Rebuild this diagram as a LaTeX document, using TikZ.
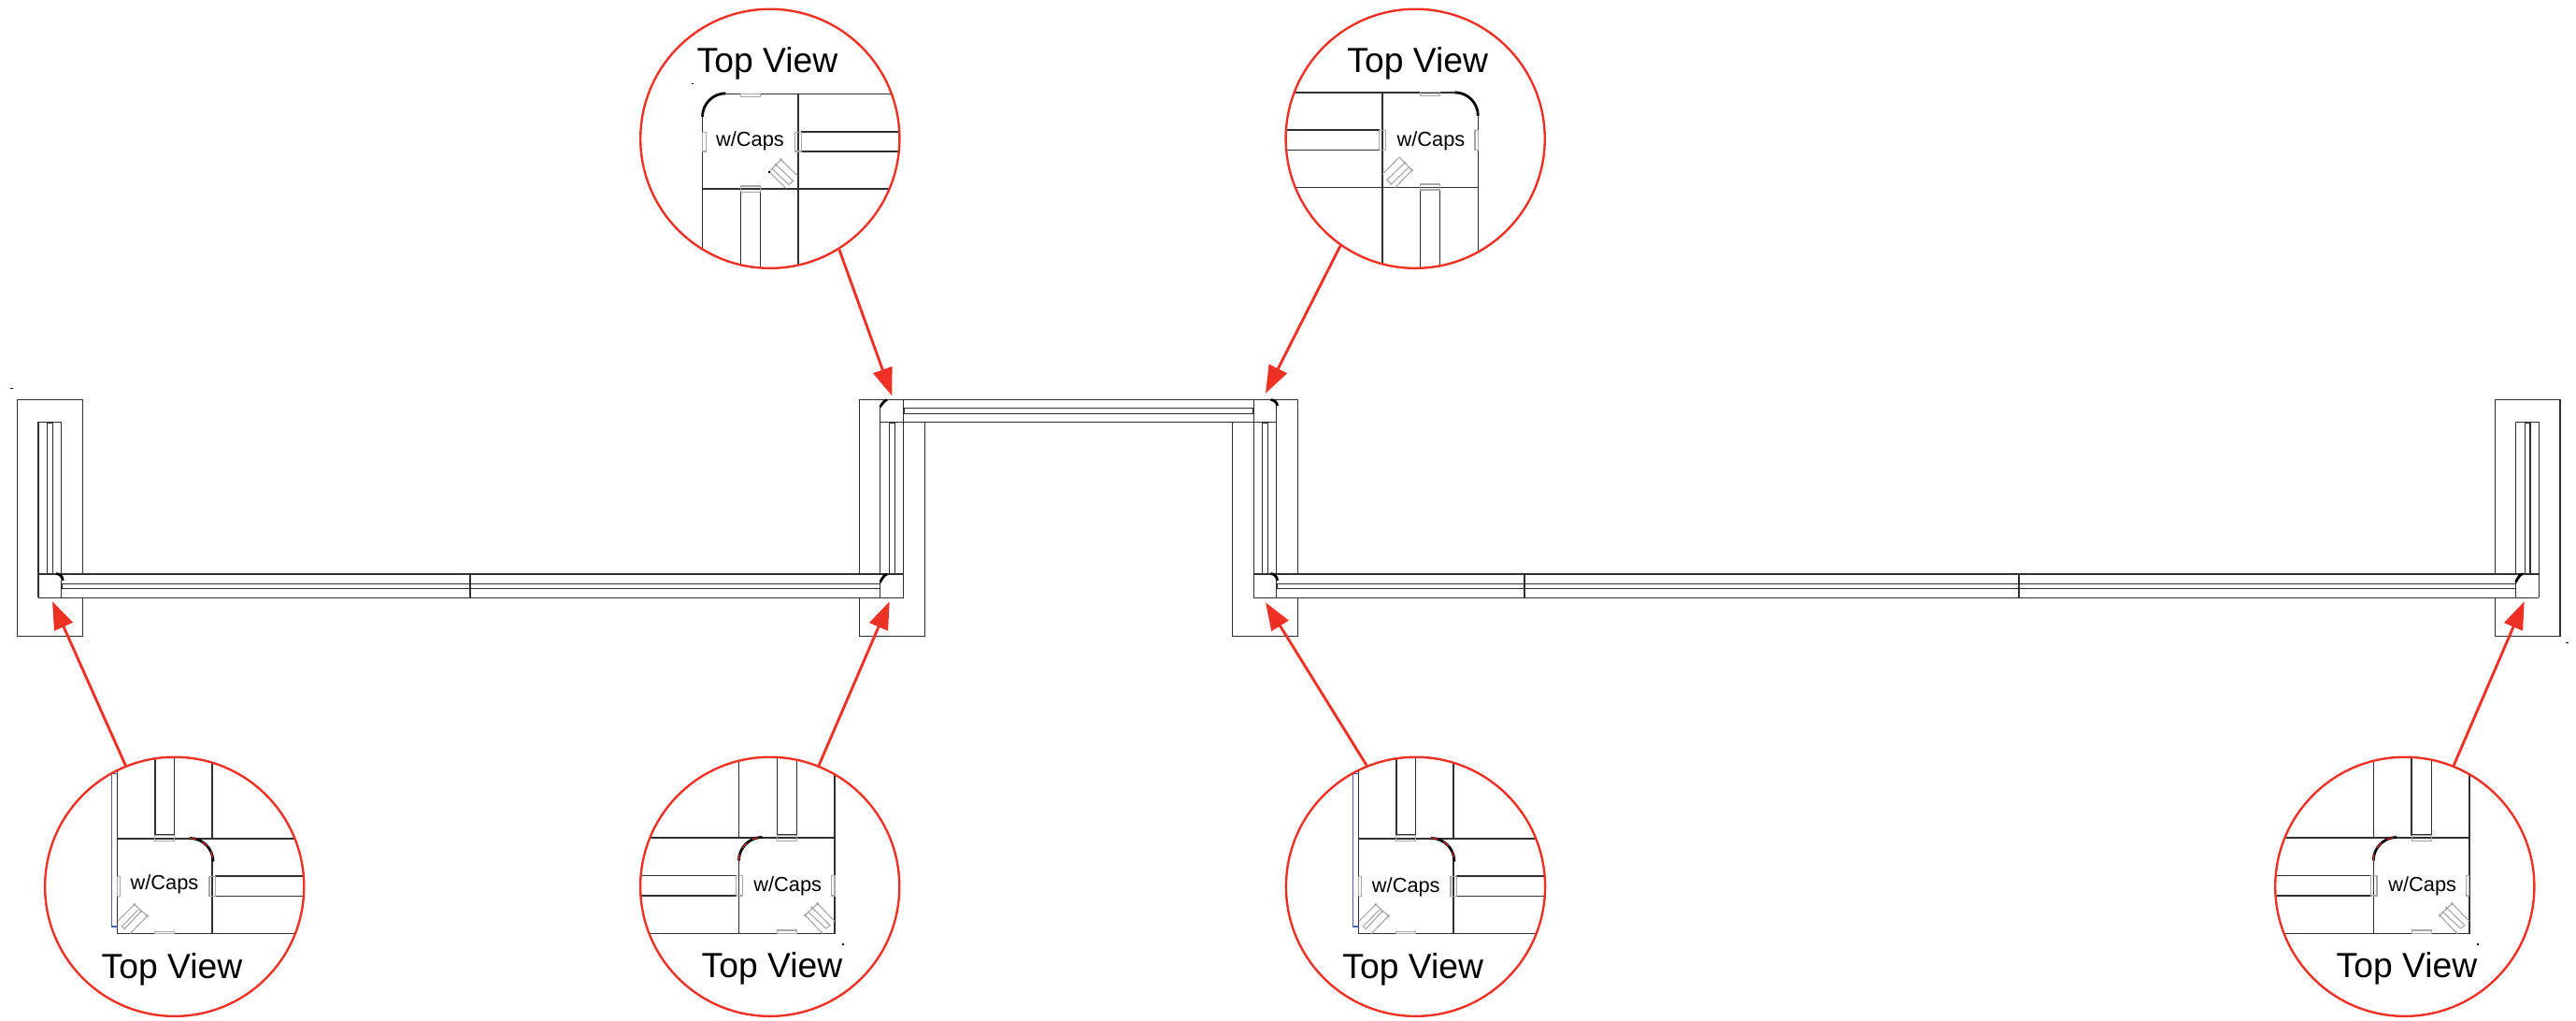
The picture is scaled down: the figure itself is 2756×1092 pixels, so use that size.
\documentclass[tikz,border=0pt]{standalone}
\usepackage{fontspec}
\setmainfont{Liberation Sans}
\usetikzlibrary{arrows.meta}
\definecolor{callred}{HTML}{EE3124}
\definecolor{plan}{HTML}{303030}
\definecolor{capgray}{HTML}{A8A8A8}
\definecolor{blueline}{HTML}{4A5FB0}
\tikzset{
  planline/.style={draw=plan,line width=0.42pt},
  arcline/.style={draw=black,line width=0.8pt},
  detail/.style={draw=plan,line width=0.42pt},
  capline/.style={draw=capgray,line width=0.32pt},
  lens/.style={circle,draw=callred,line width=0.68pt,minimum size=2.77cm,inner sep=0pt},
  callout/.style={draw=callred,line width=0.82pt,-{Triangle[length=8.4pt,width=6pt]}},
  bigtext/.style={font=\fontsize{10.6pt}{12pt}\selectfont,inner sep=0pt},
  smalltext/.style={font=\fontsize{6.2pt}{7pt}\selectfont,inner sep=0pt},
  zoomed/.style={shift={#1},x=0.0033333cm,y=-0.0033333cm},
}
% Detail views, written in the coordinates of a 340x300 crop at 3x
\newcommand{\viewTL}{%
  \draw[detail] (352,302)--(900,302) (583,302)--(583,900) (275,607)--(900,607) (275,375)--(275,900);
  \draw[detail] (910,424)--(593,424)--(593,487)--(910,487) (398,900)--(398,618)--(462,618)--(462,900);
  \draw[capline] (398,302) rectangle (462,312) (275,424) rectangle (288,487) (573,424) rectangle (593,487) (398,598) rectangle (462,618);
  \draw[capline] (581,565)--(527,513)--(490,552)--(543,605) (511,529)--(567,582)--(553,593)--(497,541);
  \draw[arcline] (275,375) arc[start angle=180,end angle=270,radius=75];
  \fill[black] (487,549) rectangle (494,556);
  \fill[capgray] (527,513) circle (5) (511,529) circle (5);
}
\newcommand{\viewTR}{%
  \draw[detail] (0,297)--(590,297) (357,297)--(357,900) (0,603)--(665,603) (665,372)--(665,900);
  \draw[detail] (0,418)--(347,418)--(347,482)--(0,482) (480,900)--(480,610)--(542,610)--(542,900);
  \draw[capline] (480,297) rectangle (542,307) (655,418) rectangle (665,482) (347,418) rectangle (367,482) (480,592) rectangle (542,610);
  \draw[capline] (358,560)--(412,505)--(453,547)--(398,603) (430,523)--(372,578)--(386,592)--(443,537);
  \draw[arcline] (590,297) arc[start angle=270,end angle=360,radius=75];
  \fill[capgray] (430,523) circle (5) (453,547) circle (5);
}
\newcommand{\viewBL}{%
  \draw[detail] (287,0)--(287,627)--(900,627) (592,0)--(592,322) (592,372)--(592,627) (287,322)--(900,322);
  \draw[detail] (900,442)--(603,442)--(603,507)--(900,507) (408,0)--(408,310)--(470,310)--(470,0);
  \draw[capline] (408,620) rectangle (470,627) (287,442) rectangle (296,507) (583,442) rectangle (603,507) (408,312) rectangle (470,330);
  \draw[capline] (289,586)--(342,533)--(383,570)--(328,627) (362,556)--(310,612)--(302,603)--(355,549);
  \draw[blueline,line width=0.3pt] (287,112)--(268,112)--(268,604)--(287,604);
  \draw[arcline] (520,320) arc[start angle=270,end angle=360,radius=75];
  \draw[callred,line width=0.3pt,dash pattern=on 2pt off 2pt] (520,320) arc[start angle=270,end angle=360,radius=75];
  \fill[capgray] (342,533) circle (5) (362,556) circle (5) (383,570) circle (5);
}
\newcommand{\viewBR}{%
  \draw[detail] (0,318)--(670,318) (0,627)--(670,627) (362,0)--(362,318) (362,392)--(362,627) (670,0)--(670,627);
  \draw[detail] (0,440)--(353,440)--(353,505)--(0,505) (485,0)--(485,310)--(549,310)--(549,0);
  \draw[capline] (485,616) rectangle (549,627) (660,440) rectangle (670,505) (353,440) rectangle (373,505) (485,310) rectangle (549,328);
  \draw[capline] (670,587)--(615,530)--(575,568)--(632,627) (597,543)--(655,600)--(642,610)--(583,555);
  \draw[arcline] (362,392) arc[start angle=180,end angle=270,radius=75];
  \draw[callred,line width=0.3pt,dash pattern=on 2pt off 2pt] (362,392) arc[start angle=180,end angle=270,radius=75];
  \fill[capgray] (615,530) circle (5) (597,543) circle (5) (575,568) circle (5);
}
\begin{document}
\begin{tikzpicture}[x=0.01cm,y=-0.01cm]
\path[use as bounding box] (0,0) rectangle (2756,1092);

% --- plan: left return
\draw[planline] (88.3,614)--(88.3,427.3)--(18.5,427.3)--(18.5,680.3)--(88.3,680.3)--(88.3,639.3);
\draw[planline] (41,614)--(41,451.3)--(65.7,451.3)--(65.7,614) (65.7,621)--(65.7,639.3) (41,614)--(41,639.3);
\draw[planline] (50.7,614)--(50.7,452)--(56.7,452)--(56.7,614);
% --- plan: left run
\draw[planline] (41,614)--(966.7,614) (41,639.3)--(966.7,639.3) (66.7,624.3)--(941.3,624.3) (66.7,629.7)--(941.3,629.7) (66.7,624.3)--(66.7,629.7) (941.3,624.3)--(941.3,629.7);
\draw[planline] (503,614)--(503,639.3);
% --- plan: left pier of the bridge
\draw[planline] (919.7,614)--(919.7,427.3)--(1388.3,427.3)--(1388.3,614) (919.7,639.3)--(919.7,680.3)--(989.3,680.3)--(989.3,451.3);
\draw[planline] (941.3,433)--(941.3,614) (941.3,621)--(941.3,639.3) (966.7,427.3)--(966.7,639.3) (941.3,451.3)--(1365.7,451.3);
\draw[planline] (951.7,614)--(951.7,452)--(957.3,452)--(957.3,614);
% --- plan: bridge
\draw[planline] (1340.3,436.7)--(967.7,436.7)--(967.7,442.3)--(1340.3,442.3)--cycle;
% --- plan: right pier
\draw[planline] (1318.3,451.3)--(1318.3,680.3)--(1388.3,680.3)--(1388.3,639.3);
\draw[planline] (1341.3,427.3)--(1341.3,639.3) (1365.7,431)--(1365.7,614) (1365.7,621)--(1365.7,639.3);
\draw[planline] (1350.7,614)--(1350.7,452)--(1356.7,452)--(1356.7,614);
% --- plan: right run
\draw[planline] (1341.3,614)--(2716.3,614) (1341.3,639.3)--(2716.3,639.3) (1366.7,624.3)--(2691.3,624.3) (1366.7,629.7)--(2691.3,629.7) (1366.7,624.3)--(1366.7,629.7) (2691.3,624.3)--(2691.3,629.7);
\draw[planline] (1631,614)--(1631,639.3) (2160,614)--(2160,639.3);
% --- plan: right return
\draw[planline] (2669.7,614)--(2669.7,427.3)--(2739,427.3)--(2739,680.3)--(2669.7,680.3)--(2669.7,639.3);
\draw[planline] (2691.3,614)--(2691.3,451.3)--(2716.3,451.3)--(2716.3,639.3) (2691.3,621)--(2691.3,639.3);
\draw[planline] (2701.7,614)--(2701.7,452)--(2707,452)--(2707,614);
% --- plan: corner arcs
\draw[arcline] (60,613.6) to[out=0,in=90] (67.2,621);
\draw[arcline] (941.5,621) to[out=-90,in=180] (949,614);
\draw[arcline] (941.5,433.5) to[out=-90,in=180] (949,427.6);
\draw[arcline] (1359.5,427.6) to[out=0,in=90] (1366.5,434);
\draw[arcline] (1359.5,613.6) to[out=0,in=90] (1366.5,621);
\draw[arcline] (2691.3,621) to[out=-90,in=180] (2699,613.6);
% --- stray specks
\fill[black] (10.5,415.5) rectangle (13.5,416.5);
\fill[black] (2745,687) rectangle (2748,688.5);
\fill[black] (740,89) rectangle (742,90);
\fill[black] (901,1009.5) rectangle (902.5,1011);
\fill[black] (2650,1009.5) rectangle (2651.5,1011);

% --- detail views, clipped by their lens
\begin{scope}\clip (823.8,148.3) circle [radius=138.5];
  \begin{scope}[zoomed={(660,0)}]\viewTL\end{scope}\end{scope}
\begin{scope}\clip (1514.2,148.3) circle [radius=138.5];
  \begin{scope}[zoomed={(1360,0)}]\viewTR\end{scope}\end{scope}
\begin{scope}\clip (186.7,948.3) circle [radius=138.5];
  \begin{scope}[zoomed={(30,790)}]\viewBL\end{scope}\end{scope}
\begin{scope}\clip (823.7,948.3) circle [radius=138.5];
  \begin{scope}[zoomed={(670,790)}]\viewBR\end{scope}\end{scope}
\begin{scope}\clip (1514.5,948.3) circle [radius=138.5];
  \begin{scope}[zoomed={(1358,790)}]\viewBL\end{scope}\end{scope}
\begin{scope}\clip (2572.8,948.3) circle [radius=138.5];
  \begin{scope}[zoomed={(2418.8,790)}]\viewBR\end{scope}\end{scope}

% --- lenses
\node[lens] (lensTL) at (823.8,148.3) {};
\node[lens] (lensTR) at (1514.2,148.3) {};
\node[lens] (lensA) at (186.7,948.3) {};
\node[lens] (lensB) at (823.7,948.3) {};
\node[lens] (lensC) at (1514.5,948.3) {};
\node[lens] (lensD) at (2572.8,948.3) {};

% --- labels
\node[bigtext] (tvTL) at (821,68) {Top View};
\node[bigtext] (tvTR) at (1516.7,67.5) {Top View};
\node[bigtext] (tvA) at (184,1037) {Top View};
\node[bigtext] (tvB) at (826,1036) {Top View};
\node[bigtext] (tvC) at (1511.7,1037) {Top View};
\node[bigtext] (tvD) at (2575,1036) {Top View};
\node[smalltext] (capTL) at (802.5,151) {w/Caps};
\node[smalltext] (capTR) at (1531,151) {w/Caps};
\node[smalltext] (capA) at (176,946) {w/Caps};
\node[smalltext] (capB) at (842.7,947.5) {w/Caps};
\node[smalltext] (capC) at (1504.3,949) {w/Caps};
\node[smalltext] (capD) at (2591.7,947.5) {w/Caps};

% --- callouts
\coordinate (tipTL) at (954.3,423.3);
\coordinate (tipTR) at (1354,420.7);
\coordinate (tipA) at (56,643.3);
\coordinate (tipB) at (951.7,643.3);
\coordinate (tipC) at (1354,644.3);
\coordinate (tipD) at (2700.7,643.3);
\draw[callout] (lensTL.-58) -- (tipTL);
\draw[callout] (lensTR.-125) -- (tipTR);
\draw[callout] (lensA.112) -- (tipA);
\draw[callout] (lensB.68) -- (tipB);
\draw[callout] (lensC.112) -- (tipC);
\draw[callout] (lensD.68) -- (tipD);
\end{tikzpicture}
\end{document}
